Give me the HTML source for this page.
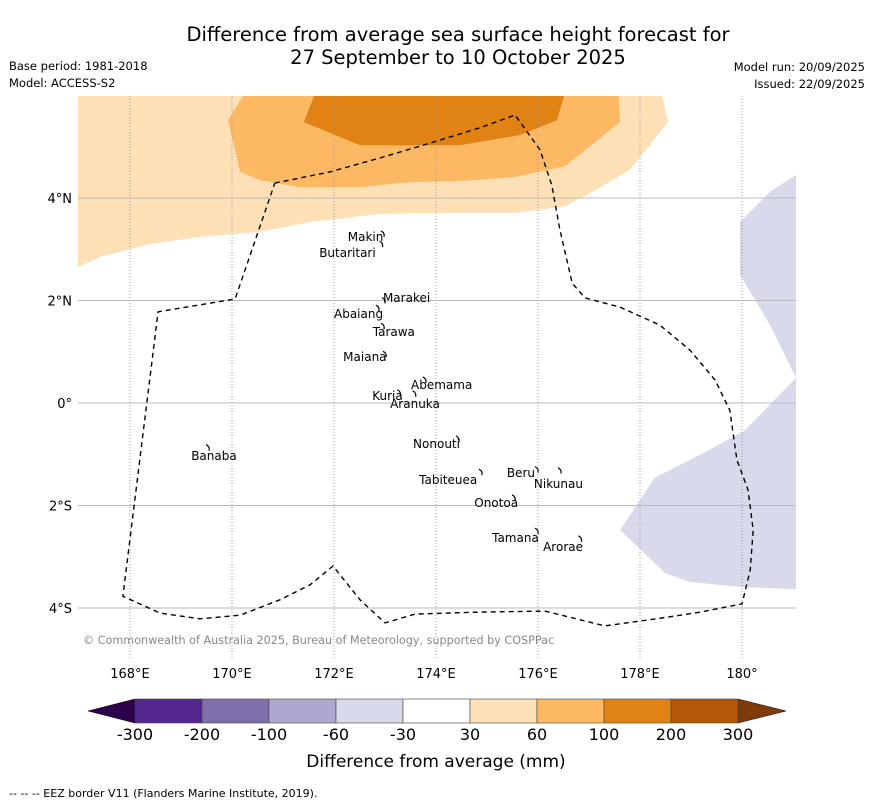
<!DOCTYPE html>
<html><head><meta charset="utf-8"><style>
body{margin:0;background:#fff;font-family:"Liberation Sans","DejaVu Sans",sans-serif}
svg text{font-family:"DejaVu Sans","Liberation Sans",sans-serif}
</style></head><body>
<svg id="s" width="873" height="804" xmlns="http://www.w3.org/2000/svg">
<text x="458" y="41" font-size="19.5" text-anchor="middle">Difference from average sea surface height forecast for</text>
<text x="458" y="64" font-size="19.5" text-anchor="middle">27 September to 10 October 2025</text>
<text x="9" y="70" font-size="11.5">Base period: 1981-2018</text>
<text x="9" y="87" font-size="11.5">Model: ACCESS-S2</text>
<text x="865" y="71" font-size="11.5" text-anchor="end">Model run: 20/09/2025</text>
<text x="865" y="88" font-size="11.5" text-anchor="end">Issued: 22/09/2025</text>
<defs><clipPath id="mc"><rect x="78" y="96" width="718" height="563"/></clipPath></defs>
<g id="map" clip-path="url(#mc)"></g>
<g id="axes"></g>
<text x="83" y="644" font-size="11.2" fill="#888">© Commonwealth of Australia 2025, Bureau of Meteorology, supported by COSPPac</text>
<g id="cbar"></g>
<text x="436" y="767" font-size="17" text-anchor="middle">Difference from average (mm)</text>
<text x="9" y="797" font-size="11">--  --  -- EEZ border V11 (Flanders Marine Institute, 2019).</text>
</svg>
<script>
const lonTicks=[168,170,172,174,176,178,180];
const lonLabels=["168°E","170°E","172°E","174°E","176°E","178°E","180°"];
const latTicks=[4,2,0,-2,-4];
const latLabels=["4°N","2°N","0°","2°S","4°S"];
const lightOrange=[[166.98,2.65],[167.41,2.85],[168.39,3.10],[169.37,3.24],[170.55,3.34],[171.53,3.53],[172.90,3.69],[174.47,3.71],[175.55,3.71],[176.53,3.84],[177.22,4.20],[177.80,4.55],[178.55,5.48],[178.39,6.2],[166.5,6.2],[166.5,2.6]];
const midOrange=[[169.92,5.52],[170.16,4.51],[170.55,4.35],[171.33,4.21],[172.51,4.21],[173.49,4.31],[174.47,4.33],[175.55,4.41],[176.53,4.62],[177.61,5.48],[177.57,6.2],[170.35,6.2]];
const darkOrange=[[171.41,5.48],[172.51,5.03],[174.47,5.03],[175.65,5.23],[176.37,5.52],[176.57,6.2],[171.69,6.2]];
const lavA=[[179.96,3.53],[180.55,4.12],[181.06,4.45],[181.5,4.5],[181.5,0.4],[181.06,0.49],[180.55,1.52],[179.96,2.50]];
const lavB=[[181.06,0.49],[180.06,-0.53],[179.18,-1.01],[178.29,-1.46],[177.61,-2.48],[178.49,-3.32],[178.98,-3.49],[179.96,-3.59],[181.5,-3.65],[181.5,0.4]];
const eez=[[170.84,4.29],[171.92,4.51],[172.90,4.78],[173.88,5.07],[174.86,5.37],[175.55,5.62],[176.04,4.94],[176.27,4.25],[176.43,3.38],[176.67,2.34],[176.92,2.05],[177.61,1.87],[178.39,1.52],[178.98,1.03],[179.47,0.45],[179.76,-0.14],[179.90,-1.11],[180.12,-1.70],[180.22,-2.48],[180.16,-3.26],[180.0,-3.92],[179.18,-4.08],[178.39,-4.20],[177.31,-4.35],[176.14,-4.06],[174.86,-4.08],[173.59,-4.12],[173.0,-4.29],[172.51,-3.84],[171.98,-3.18],[171.53,-3.55],[170.94,-3.84],[170.16,-4.14],[169.37,-4.21],[168.59,-4.10],[167.86,-3.77],[168.55,1.78],[170.06,2.03],[170.84,4.29]];
const islandNames=["Makin","Butaritari","Marakei","Abaiang","Tarawa","Maiana","Abemama","Kuria","Aranuka","Nonouti","Banaba","Beru","Nikunau","Tabiteuea","Onotoa","Tamana","Arorae"];
const islandLon=[172.27,171.71,172.96,172.0,172.76,172.18,173.51,172.75,173.10,173.55,169.20,175.39,175.92,173.67,174.75,175.10,176.10];
const islandLat=[3.24,2.93,2.05,1.74,1.39,0.90,0.35,0.14,-0.02,-0.80,-1.03,-1.37,-1.58,-1.50,-1.95,-2.63,-2.81];
const atollLon=[172.98,172.95,173.0,172.88,172.98,173.02,173.8,173.3,173.6,174.45,169.55,176.0,176.45,174.9,175.55,176.0,176.85];
const atollLat=[3.3,3.1,2.0,1.85,1.5,0.95,0.45,0.2,0.18,-0.7,-0.87,-1.3,-1.32,-1.35,-1.85,-2.5,-2.65];
const cbLevels=["-300","-200","-100","-60","-30","30","60","100","200","300"];
const cbColors=["#54278f","#7f70ab","#aea8d1","#d8d9ea","#ffffff","#fee0b6","#fdb863","#e08214","#b35806"];
const cbUnder="#2d004b", cbOver="#7f3b08";

const NS="http://www.w3.org/2000/svg";
const X=lon=>130+(lon-168)*51;
const Y=lat=>403-lat*51.25;
function mk(tag,parent,attrs){const e=document.createElementNS(NS,tag);for(const k in attrs)e.setAttribute(k,attrs[k]);parent.appendChild(e);return e;}
const map=document.getElementById('map'),axes=document.getElementById('axes'),cb=document.getElementById('cbar');
const pts=a=>a.map(p=>X(p[0]).toFixed(1)+","+Y(p[1]).toFixed(1)).join(" ");
function poly(a,fill,name){const e=mk('polygon',map,{points:pts(a),fill:fill,stroke:'none'});

}
poly(lightOrange,'#fee0b6','contour-30-60');
poly(midOrange,'#fdb863','contour-60-100');
poly(darkOrange,'#e08214','contour-100-200');
poly(lavA,'#d8d9ea','contour-neg-north');
poly(lavB,'#d8d9ea','contour-neg-south');
lonTicks.forEach((v,i)=>{const l=mk('line',map,{x1:X(v),x2:X(v),y1:96,y2:659,stroke:'#999','stroke-width':1,'stroke-dasharray':'1,2'});


const t=mk('text',axes,{x:X(v),y:678,'font-size':13,'text-anchor':'middle'});t.textContent=lonLabels[i];

});
latTicks.forEach((v,i)=>{const l=mk('line',map,{x1:78,x2:796,y1:Y(v),y2:Y(v),stroke:'#bbb','stroke-width':1});


const t=mk('text',axes,{x:72,y:Y(v)+5,'font-size':13,'text-anchor':'end'});t.textContent=latLabels[i];

});
const ez=mk('polyline',map,{points:pts(eez),fill:'none',stroke:'#000','stroke-width':1.4,'stroke-dasharray':'5,4'});


atollLon.forEach((v,i)=>{const a=mk('path',map,{d:`M${X(v)-3},${Y(atollLat[i])-3} q4,2 3,6`,fill:'none',stroke:'#000','stroke-width':1.2});

});
islandNames.forEach((n,i)=>{const t=mk('text',map,{x:X(islandLon[i]),y:Y(islandLat[i])+4,'font-size':12});t.textContent=n;

});
const cx0=135,cx1=738,cy=699,ch=24,bw=(cx1-cx0)/cbColors.length;
const u=mk('polygon',cb,{points:`${cx0},${cy} ${cx0},${cy+ch} 88,${cy+ch/2}`,fill:cbUnder,stroke:'#000','stroke-width':0.5});


const o=mk('polygon',cb,{points:`${cx1},${cy} ${cx1},${cy+ch} 786,${cy+ch/2}`,fill:cbOver,stroke:'#000','stroke-width':0.5});


cbColors.forEach((c,i)=>{const r=mk('rect',cb,{x:cx0+i*bw,y:cy,width:bw,height:ch,fill:c,stroke:'#444','stroke-width':0.6});

});
cbLevels.forEach((v,i)=>{const t=mk('text',cb,{x:cx0+i*bw,y:740,'font-size':16,'text-anchor':'middle'});t.textContent=v;

});
</script>
</body></html>
